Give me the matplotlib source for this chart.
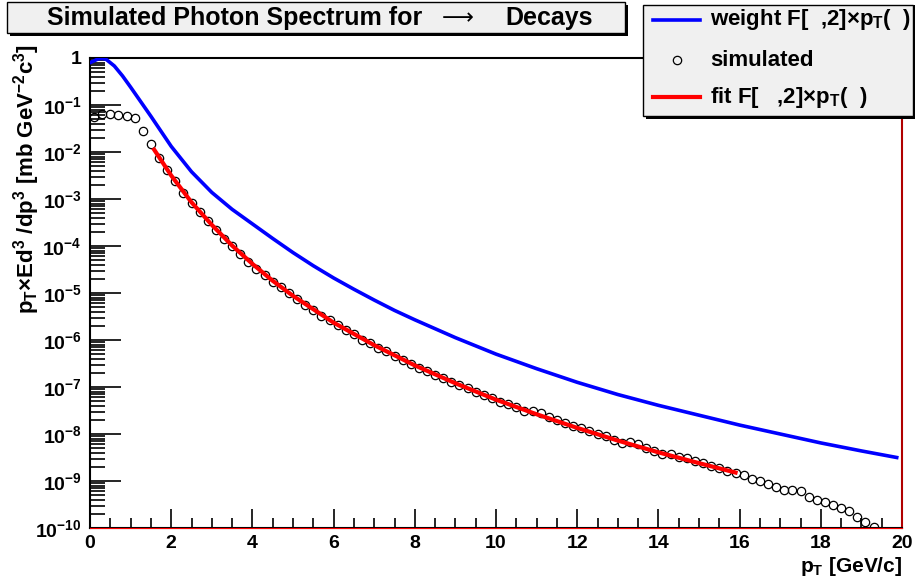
import numpy as np
import matplotlib.pyplot as plt
from matplotlib.lines import Line2D
from matplotlib.patches import Rectangle
from matplotlib.ticker import FixedLocator, NullFormatter

plt.rcParams.update({
    'font.family': ['Liberation Sans', 'DejaVu Sans'],
    'font.weight': 'bold',
    'mathtext.fontset': 'custom',
    'mathtext.rm': 'Liberation Sans:bold',
    'mathtext.it': 'Liberation Sans:bold',
    'mathtext.bf': 'Liberation Sans:bold',
    'mathtext.default': 'bf',
})

# simulated spectrum, bin centres and log10 of the values
sim_pt = np.round(np.arange(0.1, 19.4, 0.2), 1)
sim_log = [-1.25, -1.20, -1.20, -1.21, -1.23, -1.27, -1.55, -1.84, -2.13, -2.38,
           -2.62, -2.88, -3.08, -3.28, -3.47, -3.65, -3.85, -4.01, -4.18, -4.33,
           -4.48, -4.61, -4.76, -4.88, -5.01, -5.13, -5.25, -5.37, -5.48, -5.58,
           -5.69, -5.78, -5.88, -5.99, -6.07, -6.16, -6.23, -6.33, -6.43, -6.51,
           -6.59, -6.66, -6.74, -6.81, -6.89, -6.96, -7.03, -7.10, -7.17, -7.23,
           -7.31, -7.37, -7.43, -7.51, -7.51, -7.56, -7.64, -7.70, -7.77, -7.83,
           -7.87, -7.94, -7.99, -8.04, -8.13, -8.19, -8.17, -8.22, -8.30, -8.36,
           -8.42, -8.42, -8.48, -8.52, -8.57, -8.62, -8.68, -8.73, -8.78, -8.83,
           -8.88, -8.95, -8.99, -9.06, -9.12, -9.19, -9.19, -9.21, -9.35, -9.40,
           -9.44, -9.51, -9.58, -9.64, -9.76, -9.87, -9.97]

# weight function (blue)
w_pt = [0, 0.1, 0.2, 0.3, 0.4, 0.6, 0.8, 1.0, 1.5, 2.0, 2.5, 3.0, 3.5, 4.0, 4.5,
        5.0, 5.5, 6.0, 6.5, 7.0, 7.5, 8.0, 9.0, 10, 11, 12, 13, 14, 15, 16, 17,
        18, 19, 19.87]
w_log = [-0.10, -0.06, -0.02, -0.01, -0.03, -0.17, -0.38, -0.62, -1.24, -1.88,
         -2.42, -2.86, -3.22, -3.53, -3.84, -4.14, -4.42, -4.68, -4.92, -5.15,
         -5.37, -5.57, -5.95, -6.30, -6.61, -6.90, -7.16, -7.39, -7.60, -7.81,
         -8.00, -8.19, -8.36, -8.50]

# fit (red)
fit_pt = [1.58, 2.0, 2.5, 3.0, 3.5, 4.0, 4.5, 5.0, 6.0, 7.0, 8.0, 9.0, 10, 11,
          12, 13, 14, 15, 15.9]
fit_log = [-1.95, -2.50, -3.07, -3.55, -3.99, -4.38, -4.74, -5.06, -5.63, -6.11,
           -6.54, -6.92, -7.27, -7.58, -7.87, -8.14, -8.39, -8.62, -8.82]

W, H = 915, 580
fig = plt.figure(figsize=(W / 100, H / 100), dpi=100)
ax = fig.add_axes([90 / W, 1 - 528 / H, 812 / W, 470 / H])


def px(x, y):
    return x / W, 1 - y / H


ax.plot(w_pt, 10.0 ** np.array(w_log), color='#0000ff', lw=2.6, zorder=3)
ax.plot(sim_pt, 10.0 ** np.array(sim_log), 'o', mfc='none', mec='black',
        ms=6, mew=0.9, zorder=4)
ax.plot(fit_pt, 10.0 ** np.array(fit_log), color='#ff0000', lw=3, zorder=5)

ax.set_yscale('log')
ax.set_xlim(0, 20)
ax.set_ylim(1e-10, 1)

decades = [10.0 ** k for k in range(-10, 1)]
ylabels = ['$10^{-%d}$' % -k for k in range(-10, 0)] + ['1']
ax.yaxis.set_major_locator(FixedLocator(decades))
ax.set_yticklabels(ylabels)
minors = [m * 10.0 ** k for k in range(-10, 0) for m in range(2, 10)]
ax.yaxis.set_minor_locator(FixedLocator(minors))
ax.yaxis.set_minor_formatter(NullFormatter())
ax.set_xticks(range(0, 21, 2))
ax.xaxis.set_minor_locator(FixedLocator(np.arange(0, 20.01, 0.5)))

ax.tick_params(axis='both', which='both', direction='in', top=False, right=False,
               labelsize=14, width=1.2)
ax.tick_params(axis='y', which='major', length=22, pad=6)
ax.tick_params(axis='y', which='minor', length=11)
ax.tick_params(axis='x', which='major', length=14, pad=5)
ax.tick_params(axis='x', which='minor', length=7)
for t in ax.get_xticklabels() + ax.get_yticklabels():
    t.set_fontweight('bold')

for s in ax.spines.values():
    s.set_linewidth(1.5)
    s.set_color('black')
ax.spines['right'].set_color('#b00000')
ax.axhline(1e-10, color='#ff0000', lw=0.8, zorder=6, clip_on=False)

fig.text(*px(902, 566), 'p$_{T}$ [GeV/c]', ha='right', va='center',
         fontsize=15, fontweight='bold')
fig.text(*px(27, 44), 'p$_{T}$×Ed$^{3}$ /dp$^{3}$ [mb GeV$^{-2}$c$^{3}$]',
         rotation=90, ha='center', va='top', fontsize=16, fontweight='bold')

# title box with shadow
fig.add_artist(Rectangle(px(10, 36), 618 / W, 31 / H, transform=fig.transFigure,
                         facecolor='black', edgecolor='none', zorder=9))
fig.add_artist(Rectangle(px(7, 33), 618 / W, 31 / H, transform=fig.transFigure,
                         facecolor='#f0f0f0', edgecolor='black', lw=1, zorder=10))
fig.text(*px(422, 18), 'Simulated Photon Spectrum for', ha='right', va='center',
         fontsize=18, fontweight='bold', zorder=11)
fig.text(*px(458, 18), '⟶', ha='center', va='center', family='DejaVu Sans',
         fontweight='normal', fontsize=16, zorder=11)
fig.text(*px(505, 18), 'Decays', ha='left', va='center',
         fontsize=18, fontweight='bold', zorder=11)

# legend box with shadow
fig.add_artist(Rectangle(px(646, 119), 270 / W, 114 / H, transform=fig.transFigure,
                         facecolor='black', edgecolor='none', zorder=9))
fig.add_artist(Rectangle(px(643, 116), 270 / W, 111 / H, transform=fig.transFigure,
                         facecolor='#f0f0f0', edgecolor='black', lw=1, zorder=10))
entries = [('weight F[  ,2]×p$_{T}$(  )', 20, dict(color='#0000ff', lw=2.6)),
           ('simulated', 60, dict(color='black', marker='o', mfc='none', ls='none',
                                  ms=6, mew=0.9)),
           ('fit F[   ,2]×p$_{T}$(  )', 97, dict(color='#ff0000', lw=3))]
for label, yy, style in entries:
    if style.get('ls') == 'none':
        xs, ys = [px(677, yy)[0]], [px(677, yy)[1]]
    else:
        xs = [px(653, yy)[0], px(700, yy)[0]]
        ys = [px(653, yy)[1]] * 2
    fig.add_artist(Line2D(xs, ys, transform=fig.transFigure, zorder=11, **style))
    fig.text(*px(710, yy), label, ha='left', va='center', fontsize=16,
             fontweight='bold', zorder=11)

fig.savefig('out.png', dpi=100, facecolor='white')
